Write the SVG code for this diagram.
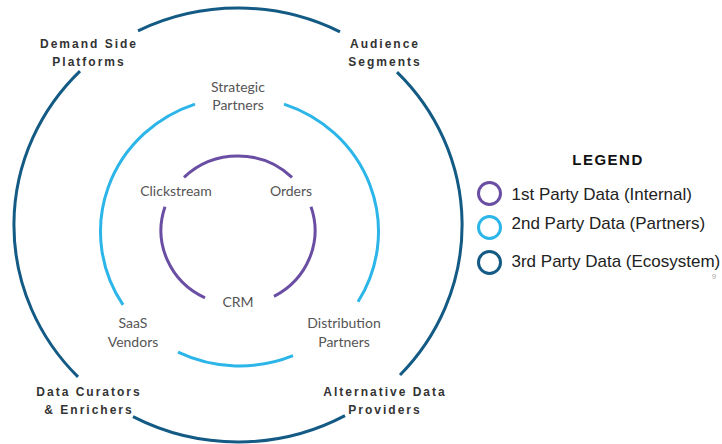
<svg xmlns="http://www.w3.org/2000/svg" width="722" height="444" viewBox="0 0 722 444">
<style>
.ring{fill:none;stroke-width:3;stroke-linecap:butt}
.p1{stroke:#6a4ea3}
.p2{stroke:#2bb5e8}
.p3{stroke:#135a84}
.outer{font-family:"Liberation Sans",Arial,sans-serif;font-weight:bold;font-size:12px;letter-spacing:2px;fill:#333;text-anchor:middle}
.inner{font-family:Lato,"Open Sans",sans-serif;font-size:14px;fill:#555;text-anchor:middle}
.leg{font-family:"Liberation Sans",Arial,sans-serif;font-size:17px;fill:#222}
</style>
<rect width="722" height="444" fill="#fff"/>
<g id="connectors">
<g id="ring-3rd">
<path class="ring p3" d="M138,30.8 A224,217 0 0 1 340,31.8"/>
<path class="ring p3" d="M397,72.1 A224,217 0 0 1 400,375"/>
<path class="ring p3" d="M345,415.6 A224,217 0 0 1 133,416.7"/>
<path class="ring p3" d="M78,376.9 A224,217 0 0 1 80,71.1"/>
</g>
<g id="ring-2nd">
<path class="ring p2" d="M284,104.1 A139,134.5 0 0 1 358,301.8"/>
<path class="ring p2" d="M293,355.6 A139,134.5 0 0 1 178,352.1"/>
<path class="ring p2" d="M123,304.9 A139,134.5 0 0 1 195,104.1"/>
</g>
<g id="ring-1st">
<path class="ring p1" d="M184,177.4 A77,74.5 0 0 1 292,177.4"/>
<path class="ring p1" d="M311,206.8 A77,74.5 0 0 1 274,296.4"/>
<path class="ring p1" d="M205,297.8 A77,74.5 0 0 1 165,206.8"/>
</g>
</g>
<g id="dsp"><text class="outer" x="89" y="47.5">Demand Side</text><text class="outer" x="89" y="66">Platforms</text></g>
<g id="audience"><text class="outer" x="385" y="47.5">Audience</text><text class="outer" x="385" y="66">Segments</text></g>
<g id="curators"><text class="outer" x="89" y="395.7">Data Curators</text><text class="outer" x="89" y="414.3">&amp; Enrichers</text></g>
<g id="altdata"><text class="outer" x="385" y="395.7">Alternative Data</text><text class="outer" x="385" y="414.3">Providers</text></g>
<g id="strategic"><text class="inner" x="238" y="92">Strategic</text><text class="inner" x="238" y="110">Partners</text></g>
<g id="saas"><text class="inner" x="133" y="328.3">SaaS</text><text class="inner" x="133" y="346.7">Vendors</text></g>
<g id="distribution"><text class="inner" x="344" y="328.3">Distribution</text><text class="inner" x="344" y="346.7">Partners</text></g>
<g id="clickstream"><text class="inner" x="176" y="196">Clickstream</text></g>
<g id="orders"><text class="inner" x="291" y="196">Orders</text></g>
<g id="crm"><text class="inner" x="238" y="306.7">CRM</text></g>
<g id="legend">
<text x="608" y="165" font-family="Liberation Sans,Arial,sans-serif" font-weight="bold" font-size="15" letter-spacing="1.5" fill="#111" text-anchor="middle">LEGEND</text>
<circle class="ring p1" cx="489.5" cy="193.5" r="11"/>
<circle class="ring p2" cx="489.5" cy="227.5" r="11"/>
<circle class="ring p3" cx="489.5" cy="262.5" r="11"/>
<text class="leg" x="511.5" y="200">1st Party Data (Internal)</text>
<text class="leg" x="511.5" y="228.5">2nd Party Data (Partners)</text>
<text class="leg" x="511.5" y="266.5">3rd Party Data (Ecosystem)</text>
</g>
<text x="714" y="279" font-family="Liberation Sans,Arial,sans-serif" font-size="8" fill="#aaa" text-anchor="middle">9</text>
</svg>
